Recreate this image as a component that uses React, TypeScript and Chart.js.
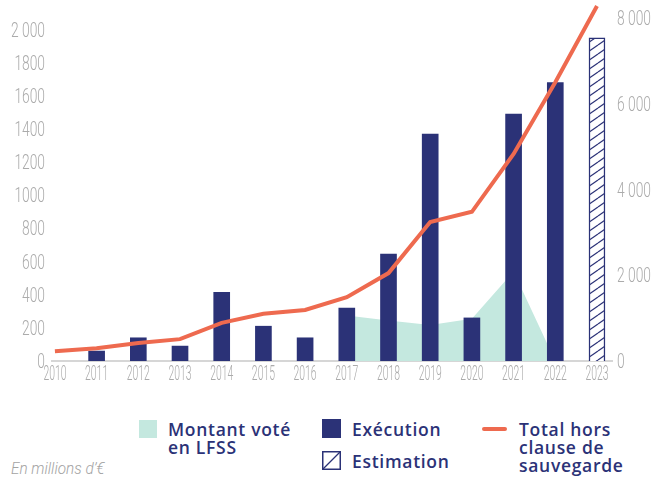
import React, { useEffect, useRef } from 'react';
import { Chart, registerables } from 'chart.js';

Chart.register(...registerables);

const years = [2010, 2011, 2012, 2013, 2014, 2015, 2016, 2017, 2018, 2019, 2020, 2021, 2022, 2023];
const yearLabels = ['2010', '2011', '2012', '2013', '2014', '2015', '2016', '2017', '2018', '2019', '2020', '2021', '2022', '2023'];
const montantVoteLFSS = [null, null, null, null, null, null, null, 275, 245, 218, 255, 540, 0, null];
const execution = [null, 60, 140, 90, 415, 210, 140, 320, 645, 1370, 260, 1490, 1680, null];
const estimation = [null, null, null, null, null, null, null, null, null, null, null, null, null, 1950];
const totalHorsClause = [230, 300, 420, 510, 890, 1100, 1190, 1490, 2050, 3240, 3480, 4830, 6500, 8280];

const leftTickValues = [0, 200, 400, 600, 800, 1000, 1200, 1400, 1600, 1800, 2000];
const leftTickLabels = ['0', '200', '400', '600', '800', '1000', '1200', '1400', '1600', '1800', '2 000'];
const rightTickValues = [0, 2000, 4000, 6000, 8000];
const rightTickLabels = ['0', '2 000', '4 000', '6 000', '8 000'];

const NAVY = '#2b3277';
const CORAL = '#ee6a4f';
const TEAL = '#c4e8df';
const TICK_GRAY = '#ababab';
const AXIS_FONT = "Roboto, 'Liberation Sans', sans-serif";
const LEGEND_FONT = "'Open Sans', 'Noto Sans', sans-serif";

const toPoints = (vals: (number | null)[]) => years.map((x, i) => ({ x, y: vals[i] }));

function makeHatch(): CanvasPattern | string {
  const w = 13;
  const h = 9;
  const c = document.createElement('canvas');
  c.width = w;
  c.height = h;
  const ctx = c.getContext('2d');
  if (!ctx) return '#ffffff';
  ctx.fillStyle = '#ffffff';
  ctx.fillRect(0, 0, w, h);
  ctx.strokeStyle = NAVY;
  ctx.lineWidth = 1.2;
  for (let k = -1; k <= 1; k++) {
    ctx.beginPath();
    ctx.moveTo(0, h + k * h);
    ctx.lineTo(w, k * h);
    ctx.stroke();
  }
  const p = ctx.createPattern(c, 'repeat');
  return p || '#ffffff';
}

function drawScaledText(
  ctx: CanvasRenderingContext2D,
  text: string,
  x: number,
  y: number,
  sx: number,
  align: CanvasTextAlign
) {
  ctx.save();
  ctx.translate(x, y);
  ctx.scale(sx, 1);
  ctx.textAlign = align;
  ctx.textBaseline = 'alphabetic';
  ctx.fillText(text, 0, 0);
  ctx.restore();
}

const condensedTickLabels = {
  id: 'condensedTickLabels',
  afterDraw(chart: any) {
    const ctx: CanvasRenderingContext2D = chart.ctx;
    const xs = chart.scales.x;
    const ys = chart.scales.y;
    const ys1 = chart.scales.y1;
    ctx.save();
    ctx.fillStyle = TICK_GRAY;
    ctx.font = `300 20px ${AXIS_FONT}`;
    years.forEach((yr, i) => {
      drawScaledText(ctx, yearLabels[i], xs.getPixelForValue(yr), xs.top + 18.5, 0.52, 'center');
    });
    leftTickValues.forEach((v, i) => {
      drawScaledText(ctx, leftTickLabels[i], ys.right - 7, ys.getPixelForValue(v) + 7, 0.69, 'right');
    });
    rightTickValues.forEach((v, i) => {
      drawScaledText(ctx, rightTickLabels[i], ys1.left + 5, ys1.getPixelForValue(v) + 7, 0.69, 'left');
    });
    ctx.restore();
  },
};

export default function App() {
  const ref = useRef<HTMLCanvasElement | null>(null);

  useEffect(() => {
    const canvas = ref.current;
    if (!canvas) return;
    const hatch = makeHatch();
    const chart = new Chart(canvas, {
      data: {
        datasets: [
          {
            type: 'line',
            label: 'Total hors clause de sauvegarde',
            data: toPoints(totalHorsClause),
            yAxisID: 'y1',
            borderColor: CORAL,
            borderWidth: 4,
            pointRadius: 0,
            tension: 0,
            clip: false,
            order: 1,
          } as any,
          {
            type: 'bar',
            label: 'Exécution',
            data: toPoints(execution),
            yAxisID: 'y',
            backgroundColor: NAVY,
            barThickness: 16,
            grouped: false,
            order: 2,
          } as any,
          {
            type: 'bar',
            label: 'Estimation',
            data: toPoints(estimation),
            yAxisID: 'y',
            backgroundColor: hatch,
            borderColor: NAVY,
            borderWidth: 1.5,
            barThickness: 16,
            grouped: false,
            clip: false,
            order: 2,
          } as any,
          {
            type: 'line',
            label: 'Montant voté en LFSS',
            data: toPoints(montantVoteLFSS),
            yAxisID: 'y',
            borderWidth: 0,
            borderColor: TEAL,
            backgroundColor: TEAL,
            fill: 'origin',
            pointRadius: 0,
            tension: 0,
            order: 3,
          } as any,
        ],
      },
      options: {
        animation: false,
        responsive: false,
        events: [],
        layout: { padding: { top: 18, left: 0, right: 0, bottom: 0 } },
        plugins: {
          legend: { display: false },
          tooltip: { enabled: false },
        },
        scales: {
          x: {
            type: 'linear',
            offset: false,
            min: 2009.93,
            max: 2023.36,
            grid: { display: false, drawTicks: false, offset: false },
            border: { display: true, color: '#d6d6d6', width: 2 },
            afterBuildTicks: (scale: any) => {
              scale.ticks = years.map((v) => ({ value: v }));
            },
            afterFit: (scale: any) => {
              scale.height = 39;
            },
            ticks: { display: false },
          },
          y: {
            type: 'linear',
            position: 'left',
            min: 0,
            max: 2070,
            grid: { display: false, drawTicks: false },
            border: { display: false },
            afterBuildTicks: (scale: any) => {
              scale.ticks = leftTickValues.map((v) => ({ value: v }));
            },
            afterFit: (scale: any) => {
              scale.width = 52;
            },
            ticks: { display: false },
          },
          y1: {
            type: 'linear',
            position: 'right',
            min: 0,
            max: 8000,
            grid: { display: false, drawTicks: false },
            border: { display: false },
            afterBuildTicks: (scale: any) => {
              scale.ticks = rightTickValues.map((v) => ({ value: v }));
            },
            afterFit: (scale: any) => {
              scale.width = 43;
            },
            ticks: { display: false },
          },
        },
      } as any,
      plugins: [condensedTickLabels],
    });
    return () => chart.destroy();
  }, []);

  const legendText: React.CSSProperties = {
    position: 'absolute',
    fontFamily: LEGEND_FONT,
    fontWeight: 600,
    fontSize: '17.5px',
    lineHeight: '18px',
    letterSpacing: '0.7px',
    color: NAVY,
    whiteSpace: 'nowrap',
  };

  return (
    <div style={{ position: 'absolute', left: 0, top: 0, width: 655, height: 479, background: '#ffffff', overflow: 'hidden' }}>
      <canvas ref={ref} width={655} height={400} style={{ position: 'absolute', left: 0, top: 0, width: 655, height: 400 }} />
      <div style={{ position: 'absolute', left: 139, top: 420, width: 18, height: 18, background: TEAL }} />
      <div style={{ ...legendText, left: 168, top: 420 }}>
        Montant voté
        <br />
        en LFSS
      </div>
      <div style={{ position: 'absolute', left: 322, top: 419, width: 19, height: 19, background: NAVY }} />
      <div style={{ ...legendText, left: 352, top: 420 }}>Exécution</div>
      <svg style={{ position: 'absolute', left: 322, top: 451 }} width={19} height={19} viewBox="0 0 19 19">
        <rect x={0.75} y={0.75} width={17.5} height={17.5} fill="#ffffff" stroke={NAVY} strokeWidth={1.5} />
        <line x1={1} y1={18} x2={18} y2={1} stroke={NAVY} strokeWidth={1.3} />
      </svg>
      <div style={{ ...legendText, left: 352, top: 452 }}>Estimation</div>
      <div style={{ position: 'absolute', left: 482, top: 427, width: 25, height: 4, background: CORAL, borderRadius: 2 }} />
      <div style={{ ...legendText, left: 519, top: 420 }}>
        Total hors
        <br />
        clause de
        <br />
        sauvegarde
      </div>
      <div
        style={{
          position: 'absolute',
          left: 11,
          top: 458,
          fontFamily: AXIS_FONT,
          fontStyle: 'italic',
          fontWeight: 300,
          fontSize: '17px',
          color: '#a3a3a3',
          whiteSpace: 'nowrap',
          transform: 'scaleX(0.9)',
          transformOrigin: '0 0',
        }}
      >
        En millions d’€
      </div>
    </div>
  );
}
